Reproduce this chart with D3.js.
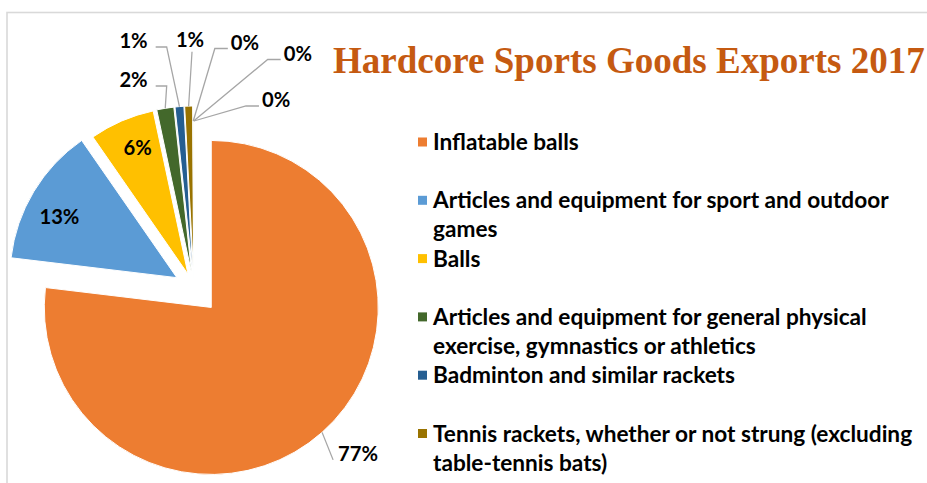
<!DOCTYPE html>
<html>
<head>
<meta charset="utf-8">
<script src="https://cdn.jsdelivr.net/npm/d3@7"></script>
<style>
  html, body { margin: 0; padding: 0; background: #fff; }
  svg { display: block; }
</style>
</head>
<body>
<svg id="chart" width="927" height="483"></svg>
<script>
// 2017 exports by HS 9506 sub-heading, thousand US$
const categories = [
  "Inflatable balls",
  "Articles and equipment for sport and outdoor games",
  "Balls",
  "Articles and equipment for general physical exercise, gymnastics or athletics",
  "Badminton and similar rackets",
  "Tennis rackets, whether or not strung (excluding table-tennis bats)",
  "Table-tennis articles",
  "Ice skates and roller skates",
  "Golf balls"
];
const exportValues = [7690, 1345, 630, 165, 85, 76, 4, 3, 2];
const chartTitle = "Hardcore Sports Goods Exports 2017";
const legendCount = 6; // entries that fit in the legend area

// ---- styling and layout ----
const sliceColors = ["#ED7D31", "#5B9BD5", "#FFC000", "#43682B", "#255E91",
                     "#997300", "#A5A5A5", "#4472C4", "#70AD47"];
const explodeBy = [26, 20, 15, 15, 15, 15, 0, 0, 0];
// label placement: mode and offset of label centre from its anchor
const labelLayout = [
  { mode: "direct", dx: 36,    dy: 21 },
  { mode: "inside", dx: -3,    dy: 8 },
  { mode: "inside", dx: 2.6,   dy: -4 },
  { mode: "left",   dx: -31.7, dy: -28.8 },
  { mode: "left",   dx: -45.9, dy: -66.1 },
  { mode: "below",  dx: 1.4,   dy: -66.6 },
  { mode: "right",  dx: 51.7,  dy: -78.5 },
  { mode: "right",  dx: 104.2, dy: -67.5 },
  { mode: "right",  dx: 82.2,  dy: -21 }
];

const W = 927, H = 483;
const cx = 194, cy = 288, R = 167;
const sansFamily = "Lato, 'Open Sans', 'Noto Sans', sans-serif";
const serifFamily = "'Liberation Serif', 'DejaVu Serif', serif";

const svg = d3.select("#chart");

// measure text width for font fitting
function textWidth(str, family, weight, size) {
  const t = svg.append("text")
    .attr("font-family", family).attr("font-weight", weight)
    .attr("font-size", size).text(str);
  const w = t.node().getComputedTextLength();
  t.remove();
  return w;
}
function fitSize(str, family, weight, target) {
  return 20 * target / textWidth(str, family, weight, 20);
}

// chart frame
svg.append("rect")
  .attr("x", 7).attr("y", 12.5)
  .attr("width", W + 20).attr("height", H + 20)
  .attr("fill", "#fff")
  .attr("stroke", "#D9D9D9").attr("stroke-width", 1.6);

// ---- pie ----
const pie = d3.pie().sort(null).value(d => d);
const arcs = pie(exportValues);
const arc = d3.arc().innerRadius(0).outerRadius(R);
const total = d3.sum(exportValues);

const unit = a => [Math.sin(a), -Math.cos(a)];
arcs.forEach((d, i) => {
  d.mid = (d.startAngle + d.endAngle) / 2;
  const u = unit(d.mid);
  d.ox = cx + explodeBy[i] * u[0];
  d.oy = cy + explodeBy[i] * u[1];
  d.rimX = d.ox + R * u[0];
  d.rimY = d.oy + R * u[1];
  d.innerX = d.ox + 0.8 * R * u[0];
  d.innerY = d.oy + 0.8 * R * u[1];
  d.pct = Math.round(d.value / total * 100) + "%";
});

const pieG = svg.append("g");
pieG.selectAll("path.slice")
  .data(arcs)
  .join("path")
  .attr("class", "slice")
  .attr("transform", d => `translate(${d.ox},${d.oy})`)
  .attr("d", arc)
  .attr("fill", (d, i) => sliceColors[i])
  .attr("stroke", "#fff")
  .attr("stroke-width", 1);

// ---- data labels ----
const labelSize = fitSize("77%", sansFamily, 700, 40);
const labelG = svg.append("g");
arcs.forEach((d, i) => {
  const lay = labelLayout[i];
  const ax = lay.mode === "inside" ? d.innerX : d.rimX;
  const ay = lay.mode === "inside" ? d.innerY : d.rimY;
  const lx = ax + lay.dx, ly = ay + lay.dy;
  const w = textWidth(d.pct, sansFamily, 700, labelSize);
  const half = labelSize * 0.36;

  let pts = null;
  if (lay.mode === "left") {
    const sx = lx + w / 2 + 8, sy = ly + 6.5;
    pts = [[sx, sy], [sx + 11, sy], [ax, ay]];
  } else if (lay.mode === "right") {
    const sx = lx - w / 2 - 3, sy = ly + 6;
    pts = [[sx, sy], [sx - 13, sy], [ax, ay]];
  } else if (lay.mode === "below") {
    pts = [[lx + 2, ly + half + 5], [ax, ay]];
  } else if (lay.mode === "direct") {
    pts = [[lx - w / 2 - 5, ly + 6.5], [ax, ay]];
  }
  if (pts) {
    labelG.append("path")
      .attr("d", d3.line()(pts))
      .attr("fill", "none")
      .attr("stroke", "#A6A6A6")
      .attr("stroke-width", 1.3);
  }
  labelG.append("text")
    .attr("x", lx).attr("y", ly + half)
    .attr("text-anchor", "middle")
    .attr("font-family", sansFamily)
    .attr("font-weight", 700)
    .attr("font-size", labelSize)
    .attr("fill", "#000")
    .text(d.pct);
});

// ---- title ----
const titleSize = fitSize(chartTitle, serifFamily, 700, 592);
svg.append("text")
  .attr("x", 333).attr("y", 73)
  .attr("font-family", serifFamily)
  .attr("font-weight", 700)
  .attr("font-size", titleSize)
  .attr("fill", "#C55A11")
  .text(chartTitle);

// ---- legend ----
const legendSize = fitSize("Articles and equipment for sport and outdoor", sansFamily, 700, 456);
const legendMax = 500;
function wrap(str) {
  const words = str.split(" ");
  const lines = [];
  let cur = "";
  words.forEach(wd => {
    const next = cur ? cur + " " + wd : wd;
    if (cur && textWidth(next, sansFamily, 700, legendSize) > legendMax) {
      lines.push(cur);
      cur = wd;
    } else cur = next;
  });
  if (cur) lines.push(cur);
  return lines;
}
const legendG = svg.append("g");
categories.slice(0, legendCount).forEach((name, i) => {
  const base = 150 + i * 58.3;
  legendG.append("rect")
    .attr("x", 418).attr("y", base - 12.5)
    .attr("width", 9).attr("height", 9)
    .attr("fill", sliceColors[i]);
  const t = legendG.append("text")
    .attr("font-family", sansFamily)
    .attr("font-weight", 700)
    .attr("font-size", legendSize)
    .attr("fill", "#000");
  wrap(name).forEach((ln, k) => {
    t.append("tspan").attr("x", 433).attr("y", base + k * 29).text(ln);
  });
});
</script>
</body>
</html>
